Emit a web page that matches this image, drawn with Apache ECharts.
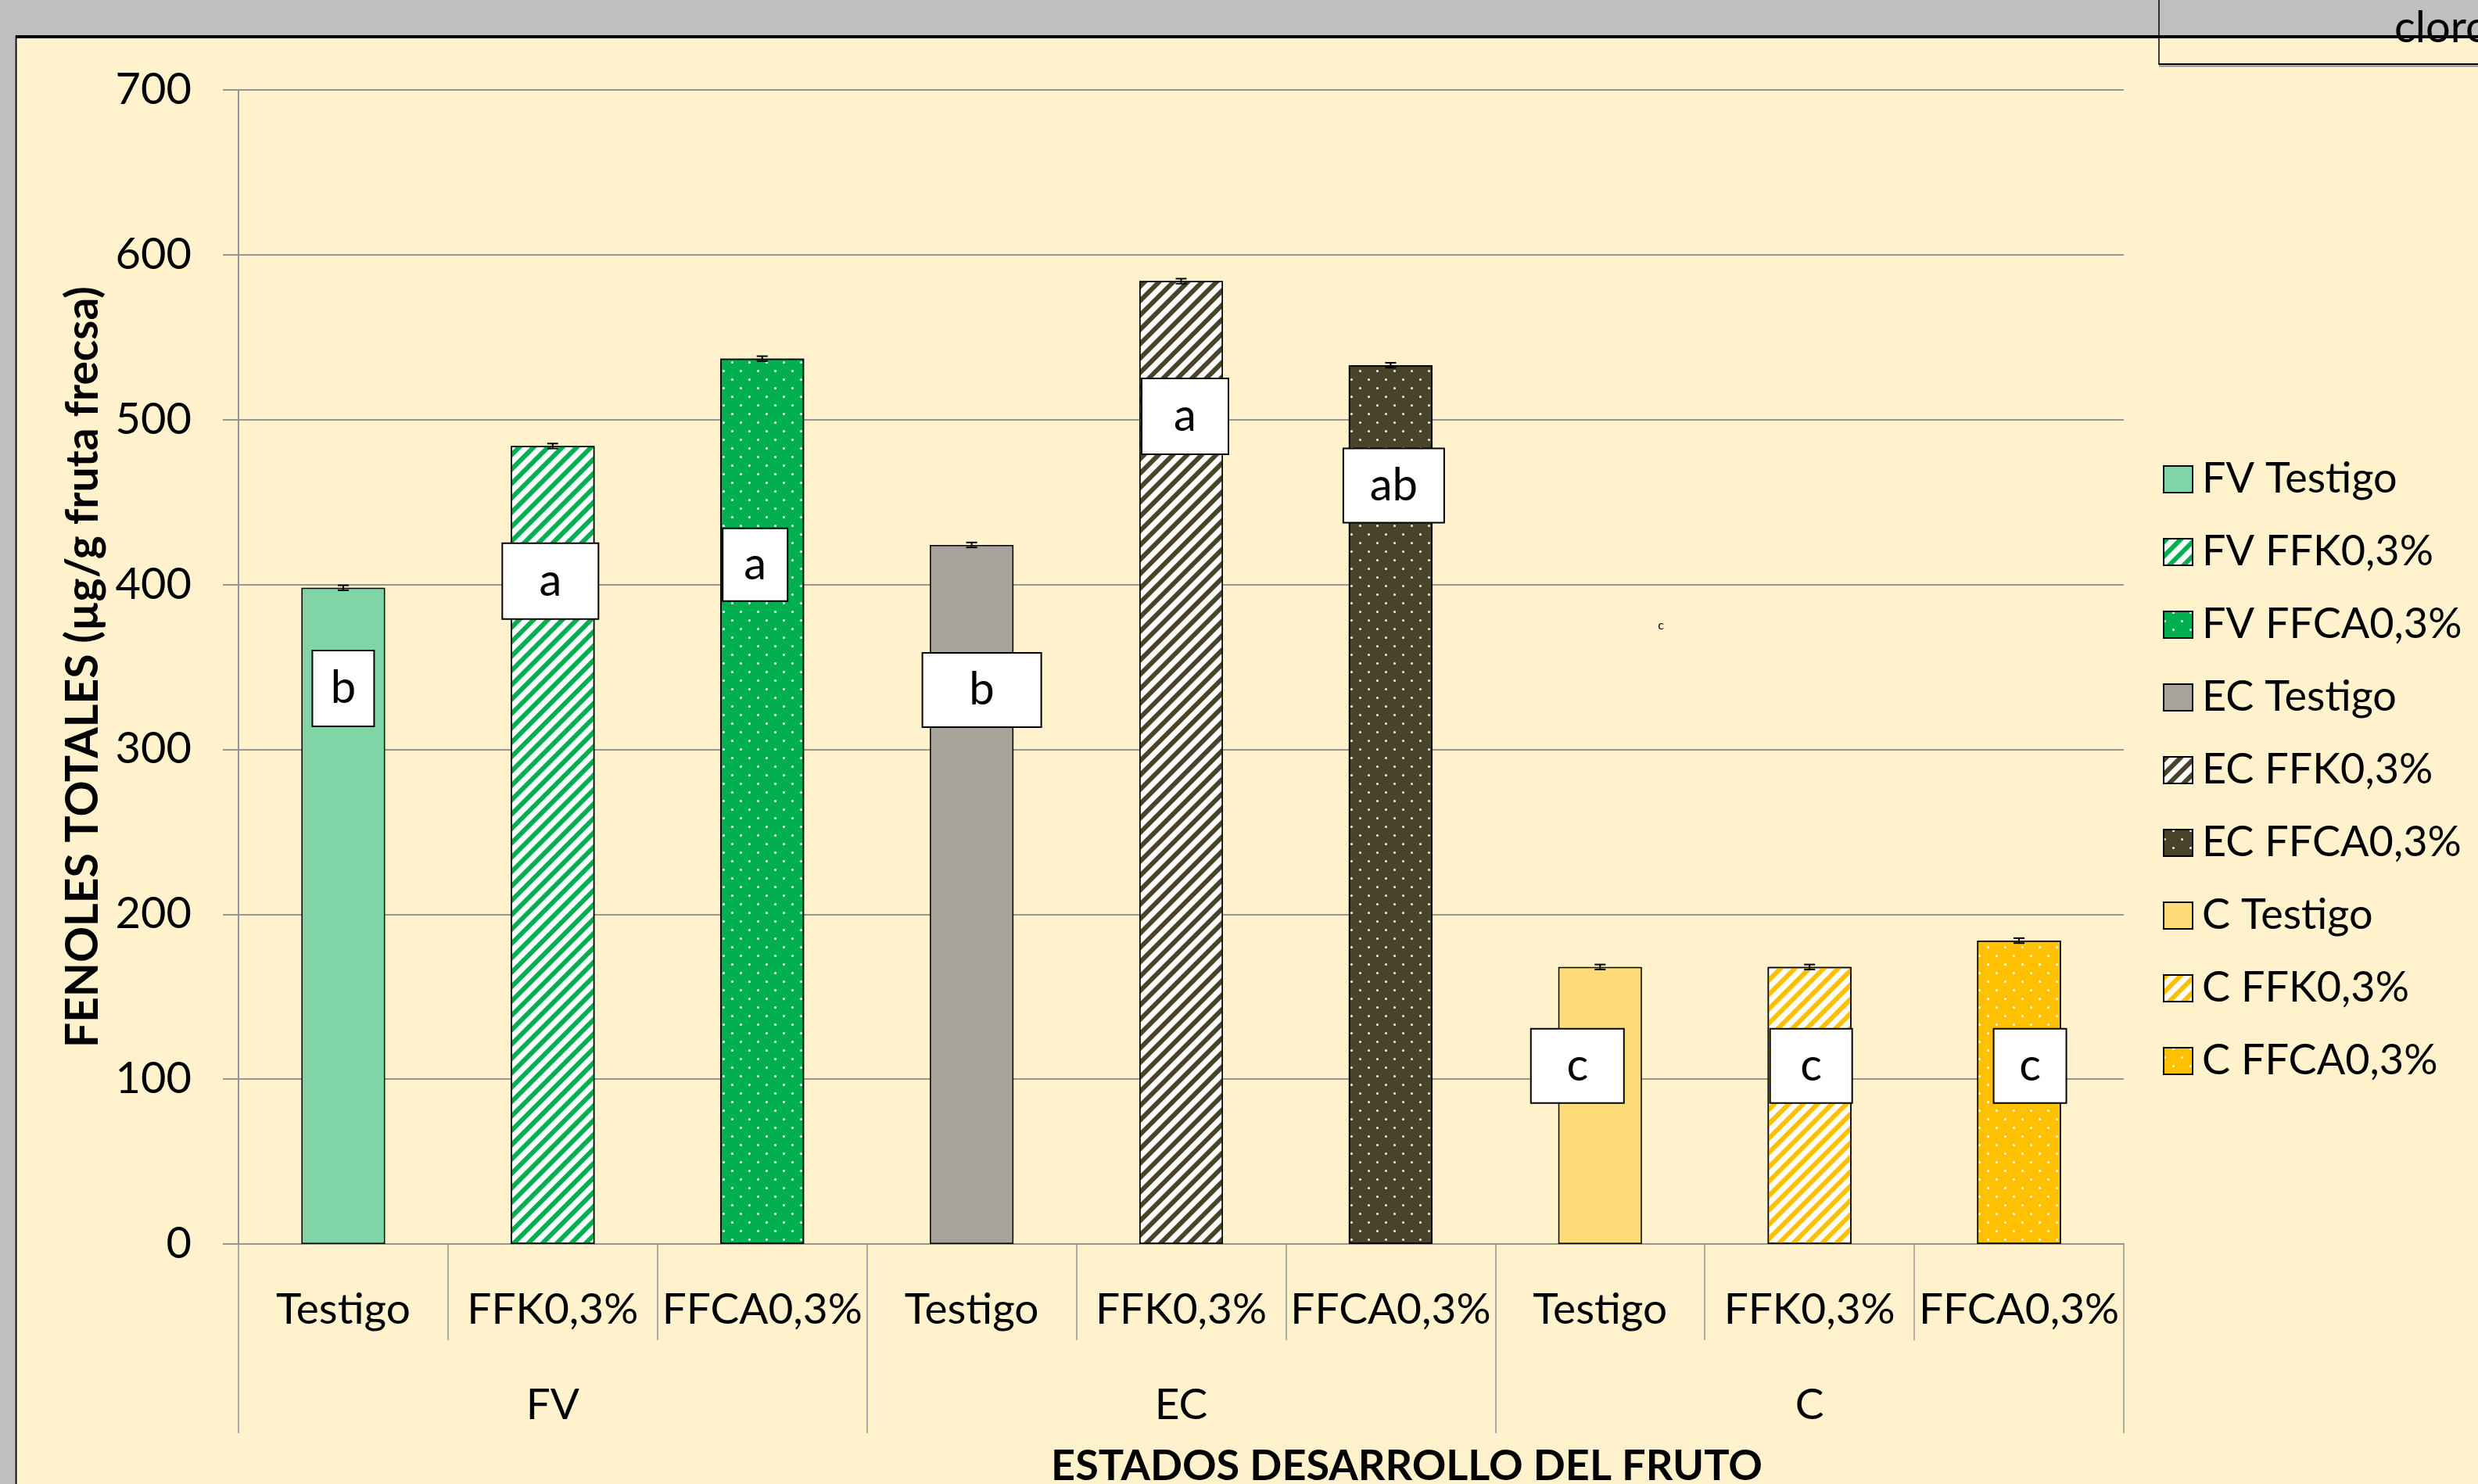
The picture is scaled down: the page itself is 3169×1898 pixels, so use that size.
<!DOCTYPE html>
<html>
<head>
<meta charset="utf-8">
<script src="https://cdn.jsdelivr.net/npm/echarts@6/dist/echarts.min.js"></script>
<style>
  html, body { margin: 0; padding: 0; background: #FFF2CC; }
  #chart { width: 3169px; height: 1898px; }
</style>
</head>
<body>
<div id="chart"></div>
<script>
  // datos
  const categories = ['Testigo', 'FFK0,3%', 'FFCA0,3%', 'Testigo', 'FFK0,3%', 'FFCA0,3%', 'Testigo', 'FFK0,3%', 'FFCA0,3%']
  const groups = ['FV', 'EC', 'C']
  const seriesNames = ['FV Testigo', 'FV FFK0,3%', 'FV FFCA0,3%', 'EC Testigo', 'EC FFK0,3%', 'EC FFCA0,3%', 'C Testigo', 'C FFK0,3%', 'C FFCA0,3%']
  const values = [398, 484, 537, 424, 584, 533, 168, 168, 184]
  const errors = [1.5, 1.5, 1.5, 1.5, 1.5, 1.5, 1.5, 1.5, 1.5]
  const letters = ['b', 'a', 'a', 'b', 'a', 'ab', 'c', 'c', 'c']
  const yTicks = [0, 700, 100] // min, max, interval

  // posición de las cajas de letras: [valor y, desplazamiento x, ancho, alto]
  const letterLayout = [
    [337, 0, 79, 97], [402, -3, 123, 97], [412, -9, 83, 93],
    [336, 13, 152, 95], [502, 5, 111, 97], [460, 4, 129, 95],
    [108, -29, 119, 95], [108, 2, 105, 95], [108, 14, 93, 95]
  ]

  const FONT = 'Lato'
  const green = '#00B050'
  const olive = '#494429'
  const gold = '#FFC000'

  const stripes = (c) => ({
    color: c, symbol: 'rect', symbolSize: 1,
    dashArrayX: [1, 0], dashArrayY: [5.5, 6.5], rotation: -Math.PI / 4
  })
  const dots = {
    color: '#ffffff', symbol: 'circle', symbolSize: 1,
    dashArrayX: [[3, 18.4], [0, 10.7, 3, 7.7]], dashArrayY: [3, 7.7]
  }
  const styles = [
    { color: '#7FD5A6' },
    { color: '#ffffff', decal: stripes(green) },
    { color: green, decal: dots },
    { color: '#A6A399' },
    { color: '#ffffff', decal: stripes(olive) },
    { color: olive, decal: dots },
    { color: '#FFDC78' },
    { color: '#ffffff', decal: stripes(gold) },
    { color: gold, decal: dots }
  ]

  const chart = echarts.init(document.getElementById('chart'))

  const barSeries = seriesNames.map((name, s) => ({
    name: name,
    type: 'bar',
    barWidth: 107,
    barGap: '-100%',
    itemStyle: Object.assign({ borderColor: '#000', borderWidth: 1.5 }, styles[s]),
    data: categories.map((c, j) => (j === s ? values[s] : '-'))
  }))

  const errorSeries = {
    type: 'custom',
    silent: true,
    z: 5,
    data: values.map((v, i) => [i, v, errors[i]]),
    renderItem: function (params, api) {
      const i = api.value(0)
      const hi = api.coord([i, api.value(1) + api.value(2)])
      const lo = api.coord([i, api.value(1) - api.value(2)])
      const st = { stroke: '#000', lineWidth: 2 }
      return {
        type: 'group',
        children: [
          { type: 'line', shape: { x1: hi[0], y1: hi[1], x2: lo[0], y2: lo[1] }, style: st },
          { type: 'line', shape: { x1: hi[0] - 7, y1: hi[1], x2: hi[0] + 7, y2: hi[1] }, style: st },
          { type: 'line', shape: { x1: lo[0] - 7, y1: lo[1], x2: lo[0] + 7, y2: lo[1] }, style: st }
        ]
      }
    }
  }

  const letterSeries = {
    type: 'custom',
    silent: true,
    z: 6,
    data: letterLayout.map((l, i) => [i, l[0]]),
    renderItem: function (params, api) {
      const k = params.dataIndex
      const lay = letterLayout[k]
      const p = api.coord([api.value(0), api.value(1)])
      const cx = p[0] + lay[1]
      return {
        type: 'group',
        children: [
          {
            type: 'rect',
            shape: { x: cx - lay[2] / 2, y: p[1] - lay[3] / 2, width: lay[2], height: lay[3] },
            style: { fill: '#fff', stroke: '#000', lineWidth: 2 }
          },
          {
            type: 'text',
            style: {
              x: cx, y: p[1], text: letters[k], align: 'center', verticalAlign: 'middle',
              fontSize: 58, fontFamily: FONT, fill: '#000'
            }
          }
        ]
      }
    }
  }

  chart.setOption({
    animation: false,
    backgroundColor: '#FFF2CC',
    textStyle: { fontFamily: FONT },
    grid: { left: 305, right: 453, top: 115, bottom: 307 },
    legend: {
      orient: 'vertical',
      left: 2761,
      top: 578,
      icon: 'rect',
      itemWidth: 37,
      itemHeight: 34,
      itemGap: 33,
      data: seriesNames,
      selectedMode: false,
      textStyle: { fontSize: 54, fontFamily: FONT, color: '#000', lineHeight: 60, padding: [0, 0, 0, 7] }
    },
    xAxis: [
      {
        type: 'category',
        data: categories,
        axisLine: { lineStyle: { color: '#959595', width: 2 } },
        axisTick: { show: true, interval: 0, length: 123, lineStyle: { color: '#959595', width: 1.5 } },
        axisLabel: { interval: 0, fontSize: 55, color: '#000', margin: 57, fontFamily: FONT }
      },
      {
        type: 'category',
        data: groups,
        position: 'bottom',
        axisLine: { show: false },
        axisTick: { show: true, interval: 0, length: 242, lineStyle: { color: '#959595', width: 1.5 } },
        axisLabel: { interval: 0, fontSize: 55, color: '#000', margin: 179, fontFamily: FONT }
      }
    ],
    yAxis: {
      type: 'value',
      min: yTicks[0],
      max: yTicks[1],
      interval: yTicks[2],
      name: 'FENOLES TOTALES (µg/g fruta frecsa)',
      nameLocation: 'middle',
      nameRotate: 90,
      nameGap: 170,
      nameTextStyle: { fontSize: 57, fontWeight: 'bold', color: '#000', fontFamily: FONT },
      axisLine: { show: true, lineStyle: { color: '#959595', width: 2 } },
      axisTick: { show: true, length: 20, lineStyle: { color: '#959595', width: 2 } },
      splitLine: { lineStyle: { color: '#959595', width: 2 } },
      axisLabel: { fontSize: 56, color: '#000', margin: 60, fontFamily: FONT }
    },
    graphic: [
      { type: 'rect', shape: { x: 0, y: 0, width: 3169, height: 46 }, style: { fill: '#BFBFBF' }, silent: true },
      { type: 'rect', shape: { x: 0, y: 0, width: 19, height: 1898 }, style: { fill: '#BFBFBF' }, silent: true },
      { type: 'line', shape: { x1: 20, y1: 47, x2: 3169, y2: 47 }, style: { stroke: '#000', lineWidth: 4 }, silent: true },
      { type: 'line', shape: { x1: 20.5, y1: 46, x2: 20.5, y2: 1898 }, style: { stroke: '#000', lineWidth: 2 }, silent: true },
      { type: 'line', shape: { x1: 2761, y1: 0, x2: 2761, y2: 83 }, style: { stroke: '#000', lineWidth: 1.5 }, silent: true },
      { type: 'line', shape: { x1: 2761, y1: 82, x2: 3169, y2: 82 }, style: { stroke: '#000', lineWidth: 2 }, silent: true },
      { type: 'line', shape: { x1: 2761, y1: 84.5, x2: 3169, y2: 84.5 }, style: { stroke: '#8a8a8a', lineWidth: 2 }, silent: true },
      {
        type: 'text', x: 3062, y: 36, silent: true,
        style: { text: 'cloro', fontSize: 56, fontFamily: FONT, fill: '#000', verticalAlign: 'middle' }
      },
      {
        type: 'text', x: 1799, y: 1876, silent: true,
        style: { text: 'ESTADOS DESARROLLO DEL FRUTO', fontSize: 54, fontWeight: 'bold', fontFamily: FONT, fill: '#000', align: 'center', verticalAlign: 'middle' }
      },
      {
        type: 'text', x: 2124, y: 800, silent: true,
        style: { text: 'c', fontSize: 16, fontFamily: FONT, fill: '#000', align: 'center', verticalAlign: 'middle' }
      }
    ],
    series: barSeries.concat([errorSeries, letterSeries])
  })
</script>
</body>
</html>
